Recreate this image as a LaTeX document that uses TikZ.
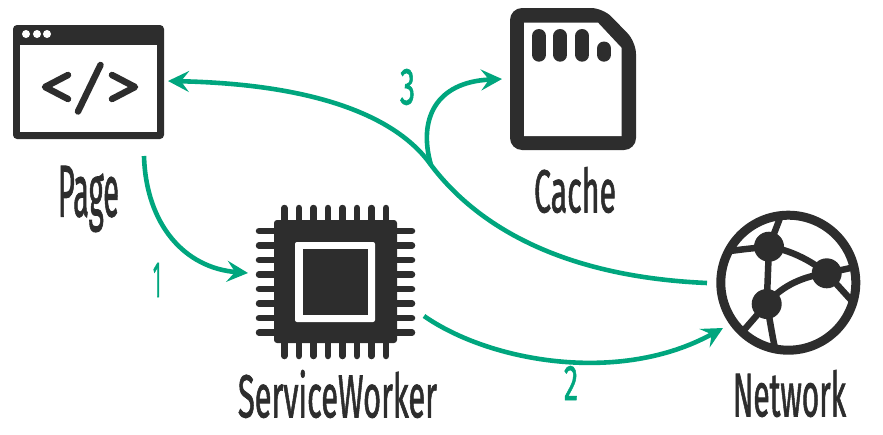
\documentclass[tikz,border=0pt]{standalone}
\usepackage{fontspec}
\usepackage{graphicx}
\setmainfont[RawFeature={embolden=1.6}]{Fira Sans}
\usetikzlibrary{arrows.meta}
\definecolor{ink}{HTML}{2D2D2D}
\definecolor{teal}{HTML}{00A67E}
\newcommand{\fit}[3]{\resizebox*{#1pt}{#2pt}{#3}}
\tikzset{
  x=1pt,y=-1pt,
  flow/.style={draw=teal,line width=4.6pt,-{Stealth[length=21pt,width=21pt,inset=8pt]}},
  inkline/.style={draw=ink,line width=6.5pt,line cap=round,line join=round},
  pin/.style={draw=ink,line width=6.5pt,line cap=round},
  mesh/.style={draw=ink,line width=6.5pt},
  caption/.style={inner sep=0pt,text=ink},
  numeral/.style={inner sep=0pt,text=teal}
}
\begin{document}
\begin{tikzpicture}
\useasboundingbox (0,0) rectangle (883,434);
% Page icon
\fill[ink,rounded corners=4pt] (13,25) rectangle (164,139);
\fill[white] (20,44.5) rectangle (157,132);
\foreach \px in {26,37,47} \fill[white] (\px,34) circle (4);
\draw[inkline] (68,75) -- (45,87) -- (68,99);
\draw[inkline] (100.5,65) -- (78,111.5);
\draw[inkline] (112,75) -- (135,87) -- (112,99);
% Chip icon
\foreach \px in {284.3,298.9,313.4,327.9,342.4,356.9,371.6,386}
  \draw[pin] (\px,208) -- (\px,356);
\foreach \py in {231,245.6,260.1,274.6,289.1,303.6,318.2,332.7}
  \draw[pin] (259,\py) -- (412,\py);
\fill[ink,rounded corners=3pt] (274,220) rectangle (397,343);
\fill[white,rounded corners=2pt] (295,242) rectangle (375,322);
\fill[ink] (303,249) rectangle (368,315);
% Cache icon
\fill[ink,rounded corners=12pt] (510,8) -- (603,8) -- (636,42) -- (636,150) -- (510,150) -- cycle;
\fill[white] (524,22.7) -- (598,22.7) -- (621.7,48) -- (621.7,136) -- (524,136) -- cycle;
\foreach \px in {539,560.3,582.3}
  \draw[ink,line width=14pt,line cap=round] (\px,36) -- (\px,54.7);
\draw[ink,line width=14pt,line cap=round] (604,48.5) -- (604,54.7);
% Network icon
\draw[ink,line width=9pt] (788.3,282.7) circle (67.5);
\fill[ink] (769,246.7) circle (15) (826.7,273.3) circle (15) (766.7,304) circle (15);
\draw[mesh] (769,246.7) -- (780,218);
\draw[mesh] (769,246.7) .. controls (755,248) and (745,249) .. (730,251);
\draw[mesh] (769,246.7) .. controls (790,250) and (810,260) .. (826.7,273.3);
\draw[mesh] (769,246.7) -- (766.7,304);
\draw[mesh] (766.7,304) .. controls (782,285) and (805,276) .. (826.7,273.3);
\draw[mesh] (826.7,273.3) -- (855,267);
\draw[mesh] (826.7,273.3) -- (851,300);
\draw[mesh] (766.7,304) -- (744,330);
\draw[mesh] (766.7,304) .. controls (770,320) and (772,335) .. (775,348);
% Labels
\node[caption] (pagelabel) at (88.5,199) {\fit{61}{66}{Page}};
\node[caption] (cachelabel) at (575,190) {\fit{82}{46}{Cache}};
\node[caption] (swlabel) at (337.5,394) {\fit{199}{48}{ServiceWorker}};
\node[caption] (netlabel) at (789.5,393.5) {\fit{113}{47}{Network}};
\node[numeral] (one) at (157,280) {\fit{8}{34}{1}};
\node[numeral] (two) at (571,383) {\fit{14}{34}{2}};
\node[numeral] (three) at (407.5,87) {\fit{15}{36}{3}};
% Connector ends
\coordinate (pageout) at (144,156);
\coordinate (pagein) at (168,81);
\coordinate (chipin) at (248,273);
\coordinate (chipout) at (424,316);
\coordinate (netin) at (723,328);
\coordinate (netout) at (707,283);
\coordinate (cachein) at (502,79);
\coordinate (fork) at (431,165);
% Connectors
\draw[flow] (pageout) .. controls (146,225) and (185,268) .. (chipin);
\draw[flow] (chipout) .. controls (490,362) and (620,385) .. (netin);
\draw[flow] (netout) .. controls (545,276) and (468,214) .. (fork) .. controls (395,114) and (310,84) .. (pagein);
\draw[flow] (fork) .. controls (418,120) and (435,82) .. (cachein);
\end{tikzpicture}
\end{document}
